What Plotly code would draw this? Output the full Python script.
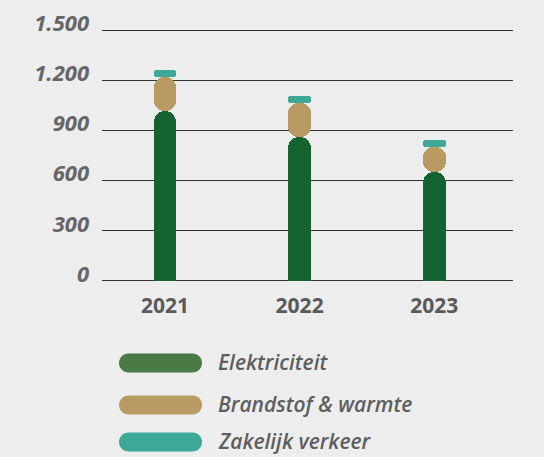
import plotly.graph_objects as go

years = ["2021", "2022", "2023"]
elektriciteit = [1015, 860, 650]
brandstof_warmte = [205, 204, 150]
zakelijk_verkeer = [42, 42, 42]

series_names = ["Elektriciteit", "Brandstof & warmte", "Zakelijk verkeer"]
bar_colors = ["#156330", "#b89b63", "#3ea897"]
legend_colors = ["#4a7a45", "#b89b63", "#3ea897"]

y_tick_vals = [0, 300, 600, 900, 1200, 1500]
y_tick_labels = ["0", "300", "600", "900", "1.200", "1.500"]

W, H = 544, 457
ML, MR, MT, MB = 102, 31, 28, 174
PW, PH = W - ML - MR, H - MT - MB
BAR_W = 0.17

fig = go.Figure()

# Elektriciteit: rounded top (pill from 0) + square-bottom filler
fig.add_trace(go.Bar(
    x=years, y=elektriciteit, base=[0] * len(years), width=BAR_W, name=series_names[0],
    marker=dict(color=bar_colors[0], cornerradius=11, line=dict(width=0)),
    showlegend=False,
))
fig.add_trace(go.Bar(
    x=years, y=[v / 2 for v in elektriciteit], base=[0] * len(years), width=BAR_W,
    name=series_names[0],
    marker=dict(color=bar_colors[0], cornerradius=0, line=dict(width=0)),
    showlegend=False,
))

# Brandstof & warmte: pill on top of Elektriciteit
fig.add_trace(go.Bar(
    x=years, y=brandstof_warmte, base=elektriciteit, width=BAR_W, name=series_names[1],
    marker=dict(color=bar_colors[1], cornerradius=10, line=dict(width=0)),
    showlegend=False,
))

# Zakelijk verkeer: thin pill on top
tops = [a + b for a, b in zip(elektriciteit, brandstof_warmte)]
fig.add_trace(go.Bar(
    x=years, y=zakelijk_verkeer, base=tops, width=BAR_W, name=series_names[2],
    marker=dict(color=bar_colors[2], cornerradius=3, line=dict(width=0)),
    showlegend=False,
))


def to_paper(px, py):
    return (px - ML) / PW, (H - MB - py) / PH


legend_rows_y = [363, 405, 442]
sw_x0, sw_x1, sw_h = 119, 202, 19
k = 0.5523
for yc_px, col, name in zip(legend_rows_y, legend_colors, series_names):
    r = sw_h / 2
    x0, yc = to_paper(sw_x0, yc_px)
    x1, _ = to_paper(sw_x1, yc_px)
    rx, ry = r / PW, r / PH
    path = (
        f"M{x0+rx},{yc+ry} L{x1-rx},{yc+ry} "
        f"C{x1-rx+k*rx},{yc+ry} {x1},{yc+k*ry} {x1},{yc} "
        f"C{x1},{yc-k*ry} {x1-rx+k*rx},{yc-ry} {x1-rx},{yc-ry} "
        f"L{x0+rx},{yc-ry} "
        f"C{x0+rx-k*rx},{yc-ry} {x0},{yc-k*ry} {x0},{yc} "
        f"C{x0},{yc+k*ry} {x0+rx-k*rx},{yc+ry} {x0+rx},{yc+ry} Z"
    )
    fig.add_shape(type="path", path=path, xref="paper", yref="paper",
                  fillcolor=col, line=dict(width=0), layer="above")
    tx, ty = to_paper(216, yc_px - 1)
    fig.add_annotation(
        x=tx, y=ty, xref="paper", yref="paper", text=name, showarrow=False,
        xanchor="left", yanchor="middle",
        font=dict(family="Open Sans", size=21, color="#5e5e5e", style="italic", weight=600),
    )

fig.update_layout(
    width=W, height=H,
    margin=dict(l=ML, r=MR, t=MT, b=MB, autoexpand=False),
    paper_bgcolor="#ededed", plot_bgcolor="#ededed",
    barmode="overlay", bargap=0,
    showlegend=False,
)
fig.update_xaxes(
    type="category", range=[-0.468, 2.585], automargin=False,
    showgrid=False, zeroline=False, showline=False, ticks="",
    tickfont=dict(family="Open Sans", size=21, color="#5a5a5a", weight=700),
    ticklabelstandoff=8,
)
fig.update_yaxes(
    range=[-12, 1512], tickvals=y_tick_vals, ticktext=y_tick_labels, automargin=False,
    showgrid=True, gridcolor="#333333", gridwidth=1.4,
    zeroline=False, showline=False, ticks="",
    ticklabelshift=-7, ticklabelstandoff=12,
    tickfont=dict(family="Open Sans", size=22, color="#666666", style="italic", weight=700),
)

fig.write_html("out.html", config={"displayModeBar": False},
               post_script="document.body.style.margin='0';")
